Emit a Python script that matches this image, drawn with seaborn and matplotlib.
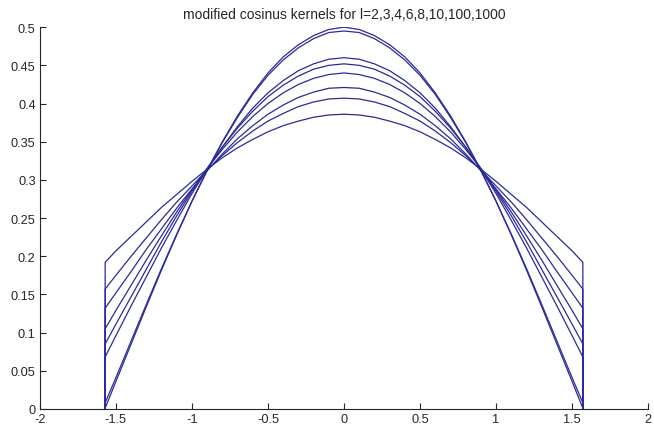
import numpy as np
import pandas as pd
import matplotlib
matplotlib.use("Agg")
import matplotlib.pyplot as plt
import seaborn as sns

# kernel orders shown in the title
orders = [2, 3, 4, 6, 8, 10, 100, 1000]

# x positions (right half; the kernels are symmetric around 0), last one is pi/2
half_x = [0.0, 0.1, 0.2, 0.3, 0.4, 0.5, 0.6, 0.7, 0.8, 0.9,
          1.0, 1.1, 1.2, 1.3, 1.4, 1.5, 1.5708]

# values, one list per order
k2 = [0.386, 0.385, 0.382, 0.377, 0.371, 0.363, 0.353, 0.342, 0.329,
      0.314, 0.298, 0.281, 0.264, 0.245, 0.226, 0.207, 0.192]
k3 = [0.407, 0.406, 0.402, 0.396, 0.387, 0.377, 0.364, 0.349, 0.332,
      0.313, 0.292, 0.271, 0.248, 0.224, 0.200, 0.175, 0.157]
k4 = [0.421, 0.420, 0.415, 0.408, 0.398, 0.386, 0.371, 0.354, 0.334,
      0.312, 0.288, 0.263, 0.236, 0.209, 0.180, 0.152, 0.132]
k6 = [0.440, 0.438, 0.433, 0.425, 0.414, 0.400, 0.383, 0.363, 0.340,
      0.315, 0.287, 0.258, 0.227, 0.195, 0.162, 0.129, 0.105]
k8 = [0.452, 0.450, 0.445, 0.436, 0.424, 0.409, 0.390, 0.368, 0.343,
      0.315, 0.285, 0.253, 0.219, 0.183, 0.147, 0.111, 0.085]
k10 = [0.460, 0.458, 0.452, 0.443, 0.430, 0.414, 0.394, 0.370, 0.343,
       0.314, 0.282, 0.247, 0.211, 0.173, 0.135, 0.096, 0.068]
k100 = [0.495, 0.493, 0.485, 0.473, 0.457, 0.437, 0.412, 0.382, 0.349,
        0.312, 0.272, 0.229, 0.184, 0.137, 0.089, 0.041, 0.008]
k1000 = [0.500, 0.497, 0.489, 0.477, 0.461, 0.440, 0.414, 0.384, 0.350,
         0.313, 0.272, 0.228, 0.182, 0.134, 0.085, 0.036, 0.001]

kernels = [k2, k3, k4, k6, k8, k10, k100, k1000]

# build one long table: each curve starts and ends at 0 on the support edges
rows = []
for l, half_y in zip(orders, kernels):
    xs = [-half_x[-1]] + [-v for v in half_x[::-1]] + half_x[1:] + [half_x[-1]]
    ys = [0.0] + half_y[::-1] + half_y[1:] + [0.0]
    for i, (xv, yv) in enumerate(zip(xs, ys)):
        rows.append({"l": l, "x": xv, "y": yv, "i": i})
df = pd.DataFrame(rows)

sns.set_style("ticks")
plt.rcParams["font.family"] = ["Liberation Sans", "DejaVu Sans"]

fig = plt.figure(figsize=(6.54, 4.27), dpi=100)
ax = fig.add_axes([0.061, 0.040, 0.930, 0.894])

sns.lineplot(data=df, x="x", y="y", units="l", estimator=None, sort=False,
             color="#2a2a9c", linewidth=0.9, ax=ax)

ax.set_xlim(-2, 2)
ax.set_ylim(0, 0.5)
ax.set_xticks(np.arange(-2, 2.01, 0.5))
ax.set_xticklabels(["-2", "-1.5", "-1", "-0.5", "0", "0.5", "1", "1.5", "2"])
ax.set_yticks(np.arange(0, 0.501, 0.05))
ax.set_yticklabels(["0", "0.05", "0.1", "0.15", "0.2", "0.25", "0.3",
                    "0.35", "0.4", "0.45", "0.5"])
ax.tick_params(direction="in", length=4, width=0.8, labelsize=9.2, pad=3)
ax.set_xlabel("")
ax.set_ylabel("")
sns.despine(ax=ax)
for s in ["left", "bottom"]:
    ax.spines[s].set_linewidth(0.8)

fig.text(0.061 + 0.930 / 2, 0.966,
         "modified cosinus kernels for l=2,3,4,6,8,10,100,1000",
         ha="center", va="center", fontsize=10)

fig.savefig("out.png", dpi=100)
